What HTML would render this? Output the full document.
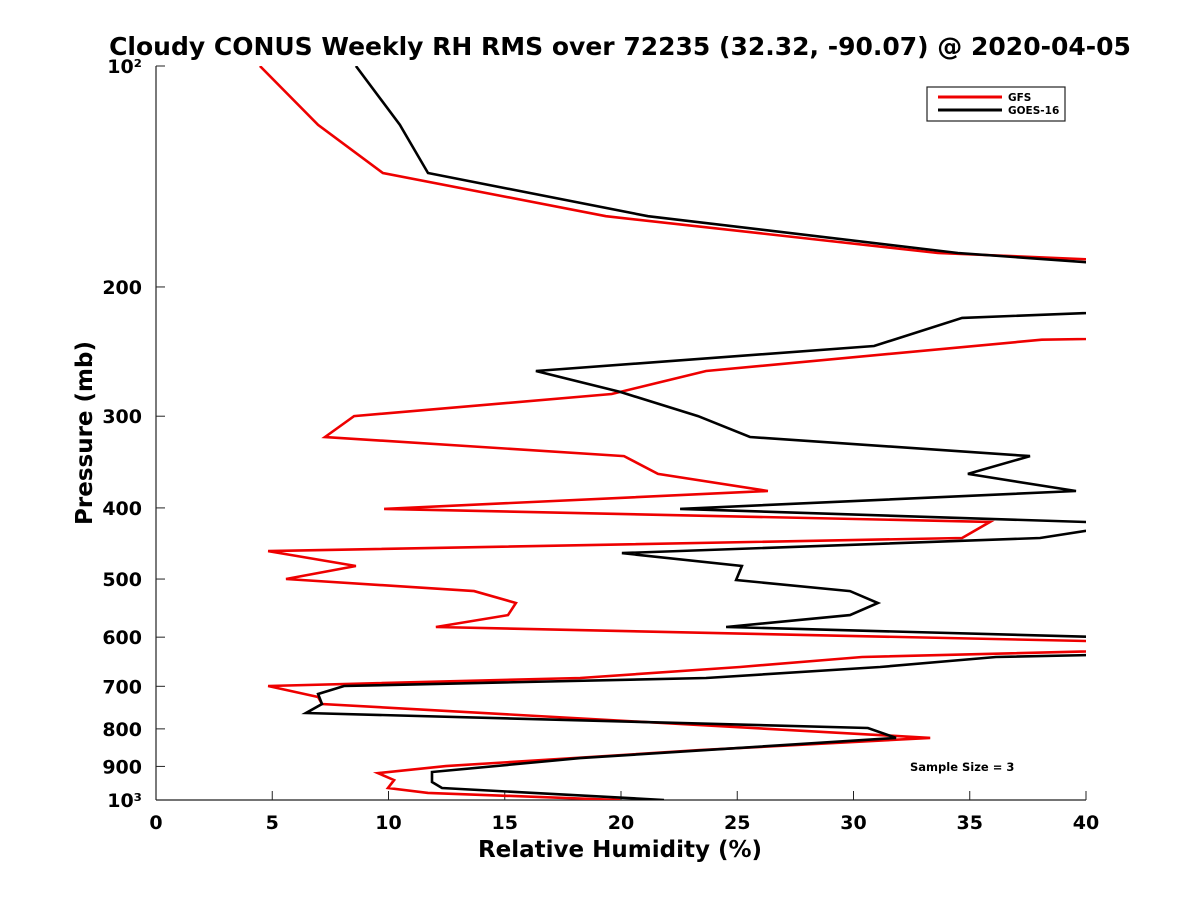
<!DOCTYPE html>
<html><head><meta charset="utf-8"><style>
body{margin:0;background:#fff;}
svg{display:block;font-family:"DejaVu Sans","Liberation Sans",sans-serif;font-weight:bold;}
</style></head><body>
<svg id="chart" width="1200" height="900">
<defs><clipPath id="plotclip"><rect x="156" y="66" width="930" height="734"/></clipPath></defs>
<text x="620" y="55" text-anchor="middle" font-size="25" fill="#000">Cloudy CONUS Weekly RH RMS over 72235 (32.32, -90.07) @ 2020-04-05</text>
<g id="axes"></g>
<g id="series" clip-path="url(#plotclip)"></g>
<g>
<rect x="927" y="87" width="138" height="34" fill="#fff" stroke="#222" stroke-width="1.2"/>
<line x1="938" y1="97" x2="1002" y2="97" stroke="#e00" stroke-width="3"/>
<text x="1008" y="101" font-size="10.5">GFS</text>
<line x1="938" y1="110" x2="1002" y2="110" stroke="#000" stroke-width="3"/>
<text x="1008" y="114" font-size="10.5">GOES-16</text>
</g>
<text x="910" y="771" font-size="11.5">Sample Size = 3</text>
<text x="620" y="857" text-anchor="middle" font-size="23">Relative Humidity (%)</text>
<text transform="translate(92,433) rotate(-90)" text-anchor="middle" font-size="23">Pressure (mb)</text>
</svg>
<script>
const xTicks=[0,5,10,15,20,25,30,35,40];
const yTicks=[100,200,300,400,500,600,700,800,900,1000];
const yTickLabels=["10²","200","300","400","500","600","700","800","900","10³"];
const gfsRH=[4.47,6.97,9.76,19.35,33.63,60,60,38.1,23.66,19.6,8.52,7.27,20.13,21.59,26.32,9.81,35.87,34.67,4.82,8.6,5.59,13.68,15.48,15.14,12.04,45,45,30.37,25.12,18.24,4.82,6.97,7.14,33.3,23.4,12.47,9.55,10.24,9.98,11.7,19.96];
const gfsP=[100,120.3,139.9,160.2,179.8,195,230,236,260.3,279.8,299.9,320.2,340,359.5,379.3,401.3,418,439.6,458,480,500,519.2,539,559.8,581.1,612,622,638.5,658.9,682.1,699.4,724,740,823,855,899,919,939.5,963,978,1000];
const goesRH=[8.6,10.49,11.7,21.16,34.49,45,45,34.67,30.88,16.34,19.96,23.31,25.55,37.59,34.92,39.57,22.54,42,38.02,20.04,25.2,24.95,29.85,31.05,29.85,24.52,45,45,36.13,31.14,23.66,8.09,6.97,7.14,6.45,30.62,31.83,18.24,11.87,11.87,12.3,21.85];
const goesP=[100,120.3,139.9,160.2,179.8,190,214,220.4,240.7,260.3,278,299.9,320.2,340,359.5,379.3,401.3,420,439.6,460.9,480,501.5,519.2,539,559.8,581.1,605,630,638.5,658.9,682.1,699.4,717.1,740,761.2,797.8,823,876.7,916,945,963,1000];
const NS="http://www.w3.org/2000/svg";
const X0=156,X1=1086,Y0=66,Y1=800;
function xs(v){return X0+(v-0)/(40-0)*(X1-X0);}
function ys(p){return Y0+(Math.log10(p)-2)*(Y1-Y0);}
function mk(t,a,parent){const e=document.createElementNS(NS,t);for(const k in a)e.setAttribute(k,a[k]);parent.appendChild(e);return e;}
const axes=document.getElementById('axes');
const ax=mk('line',{x1:X0,y1:Y1,x2:X1,y2:Y1,stroke:'#222','stroke-width':1.2},axes);


const ay=mk('line',{x1:X0,y1:Y0,x2:X0,y2:Y1,stroke:'#222','stroke-width':1.2},axes);


xTicks.forEach(v=>{
  const x=xs(v);
  const tk=mk('line',{x1:x,y1:Y1,x2:x,y2:Y1-9,stroke:'#222'},axes);
  
  
  const t=mk('text',{x:x,y:Y1+29,'text-anchor':'middle','font-size':19},axes);
  t.textContent=v;
  
  
});
yTicks.forEach((p,i)=>{
  const y=ys(p);
  const tk=mk('line',{x1:X0,y1:y,x2:X0+9,y2:y,stroke:'#222'},axes);
  
  
  const t=mk('text',{x:X0-14,y:y+7,'text-anchor':'end','font-size':19},axes);
  t.textContent=yTickLabels[i];
  
  
});
const series=document.getElementById('series');
function line(rh,p,color,name){
  const pts=rh.map((v,i)=>xs(v).toFixed(1)+','+ys(p[i]).toFixed(1)).join(' ');
  const pl=mk('polyline',{points:pts,fill:'none',stroke:color,'stroke-width':2.6,'stroke-linejoin':'miter'},series);
  
  
}
line(gfsRH,gfsP,'#e00','gfs-line');
line(goesRH,goesP,'#000','goes16-line');
</script>
</body></html>
